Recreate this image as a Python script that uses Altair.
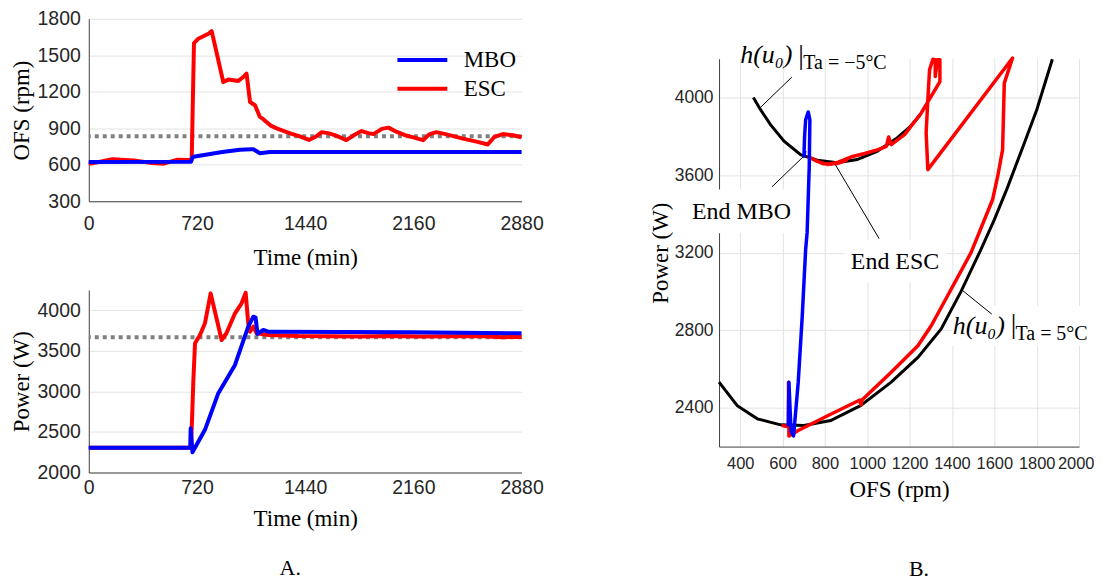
import altair as alt
import pandas as pd

BLUE = "#0000ff"
RED = "#ff0000"
GRAY = "#808080"
SERIF = "Liberation Serif"
SANS = "Liberation Sans"

# ---------------- Panel A (top): OFS vs time ----------------
time_ticks = [0, 720, 1440, 2160, 2880]
ofs_ticks = [300, 600, 900, 1200, 1500, 1800]
power_ticks = [2000, 2500, 3000, 3500, 4000]

esc_ofs_t = [0, 60, 156, 300, 420, 499, 590, 670, 685, 700, 729, 796, 818, 895, 929, 995, 1028,
             1050, 1073, 1106, 1139, 1161, 1208, 1254, 1345, 1400, 1465, 1510, 1550, 1600, 1650,
             1714, 1760, 1815, 1860, 1894, 1950, 1994, 2050, 2100, 2160, 2224, 2265, 2312, 2374,
             2489, 2580, 2655, 2700, 2755, 2822, 2880]
esc_ofs_v = [609, 620, 645, 635, 615, 609, 642, 640, 645, 1600, 1636, 1677, 1698, 1280, 1300, 1289,
             1321, 1349, 1116, 1089, 993, 975, 924, 897, 856, 835, 804, 830, 868, 858, 838, 803, 840,
             877, 860, 852, 895, 905, 870, 845, 825, 802, 850, 868, 852, 815, 790, 767, 830, 852,
             843, 826]
mbo_ofs_t = [0, 680, 690, 707, 888, 1006, 1082, 1095, 1139, 1205, 2880]
mbo_ofs_v = [623, 624, 660, 668, 705, 724, 728, 727, 695, 705, 705]
ofs_ref = [835]

# ---------------- Panel A (bottom): Power vs time ----------------
mbo_pow_t = [0, 675, 678, 684, 690, 773, 862, 973, 1061, 1095, 1110, 1123, 1161, 1194, 1231, 2146, 2880]
mbo_pow_v = [2305, 2305, 2546, 2400, 2250, 2526, 2978, 3326, 3798, 3921, 3910, 3708, 3757, 3736,
             3735, 3729, 3717]
esc_pow_t = [0, 680, 688, 696, 707, 740, 773, 811, 884, 916, 973, 1017, 1044, 1061, 1073, 1095,
             1117, 1194, 1393, 1600, 1800, 2000, 2200, 2400, 2600, 2750, 2880]
esc_pow_v = [2305, 2305, 2700, 3142, 3594, 3696, 3840, 4209, 3634, 3717, 3963, 4086, 4217, 3840,
             3736, 3798, 3717, 3696, 3684, 3680, 3678, 3682, 3676, 3680, 3683, 3668, 3672]
pow_ref = [3667]

# ---------------- Panel B: Power vs OFS ----------------
ofsB_ticks = [400, 600, 800, 1000, 1200, 1400, 1600, 1800, 2000]
powB_ticks = [2400, 2800, 3200, 3600, 4000]

cold_x = [462, 496, 543, 607, 685, 764, 858, 952, 1046, 1141, 1204, 1251]
cold_y = [4000, 3937, 3860, 3774, 3705, 3676, 3663, 3680, 3722, 3791, 3851, 3911]
warm_x = [300, 386, 481, 590, 701, 827, 968, 1113, 1239, 1349, 1443, 1537, 1600, 1660, 1740, 1800, 1874]
warm_y = [2532, 2411, 2343, 2312, 2309, 2334, 2411, 2532, 2660, 2806, 3000, 3217, 3370, 3530,
          3760, 3935, 4197]
mbo_path_x = [627, 630, 640, 652, 674, 693, 709, 716, 726, 729, 721, 709, 704, 701, 705]
mbo_path_y = [2305, 2532, 2280, 2255, 2532, 2874, 3217, 3303, 3645, 3885, 3925, 3885, 3800, 3697, 3725]
esc_path_x = [595, 645, 610, 640, 628, 628, 630, 674, 815, 965, 970, 975, 1113, 1239, 1302, 1396,
              1490, 1592, 1616, 1639, 1647, 1686, 1286, 1278, 1286, 1294, 1310, 1321, 1321, 1331,
              1343, 1343, 1255, 1176, 1113, 1101, 1090, 1051, 988, 925, 863, 815, 760, 725, 790,
              860, 900, 830, 880, 850]
esc_path_y = [2308, 2305, 2305, 2305, 2305, 2532, 2254, 2283, 2360, 2440, 2415, 2440, 2583, 2720,
              2823, 3011, 3200, 3474, 3594, 3731, 4074, 4203, 3628, 3817, 3988, 4142, 4197, 4194,
              4108, 4194, 4194, 4082, 3920, 3808, 3757, 3796, 3748, 3731, 3711, 3694, 3666, 3654,
              3672, 3692, 3658, 3660, 3676, 3655, 3668, 3660]

# annotation pointers (data coordinates)
ptr_x = [644, 550, 849, 1446]
ptr_y = [4105, 3539, 3654, 3008]
ptr_x2 = [498, 700, 1056, 1588]
ptr_y2 = [3951, 3697, 3272, 2883]

# white label boxes behind annotations
box_x = [160, 894, 1400]
box_x2 = [650, 1371, 2060]
box_y = [3300, 3047, 2720]
box_y2 = [3525, 3268, 2926]


def path_df(xs, ys, name):
    return pd.DataFrame({"x": xs, "y": ys, "i": list(range(len(xs))), "series": name})


# ---------- top chart ----------
x_time_top = alt.X("x:Q", scale=alt.Scale(domain=[0, 2880], nice=False, zero=False),
                   axis=alt.Axis(values=time_ticks, format="d", title="Time (min)", grid=False,
                                 labelFlush=False, labelPadding=13, titlePadding=14))
y_ofs = alt.Y("y:Q", scale=alt.Scale(domain=[300, 1800], nice=False, zero=False),
              axis=alt.Axis(values=ofs_ticks, format="d", title="OFS (rpm)", grid=True,
                            labelFlush=False, labelPadding=8.5, titlePadding=3.5))
legend = alt.Legend(title=None, orient="none", legendX=320, legendY=26.8, padding=0,
                    symbolType="M-2,0H2", symbolSize=625, symbolStrokeWidth=4,
                    labelFont=SERIF, labelFontSize=23, labelColor="black",
                    labelOffset=27, rowPadding=2)
color = alt.Color("series:N", scale=alt.Scale(domain=["MBO", "ESC"], range=[BLUE, RED]),
                  legend=legend)

ref_top = alt.Chart(pd.DataFrame({"y": ofs_ref})).mark_rule(
    color=GRAY, strokeWidth=4, strokeDash=[4, 4]).encode(y=y_ofs)
esc_top = alt.Chart(path_df(esc_ofs_t, esc_ofs_v, "ESC")).mark_line(
    strokeWidth=4, strokeJoin="round").encode(x=x_time_top, y=y_ofs, color=color, order="i:Q")
mbo_top = alt.Chart(path_df(mbo_ofs_t, mbo_ofs_v, "MBO")).mark_line(
    strokeWidth=4, strokeJoin="round").encode(x=x_time_top, y=y_ofs, color=color, order="i:Q")
top = alt.layer(ref_top, esc_top, mbo_top).properties(width=434, height=183)

# ---------- bottom chart ----------
x_time_bot = alt.X("x:Q", scale=alt.Scale(domain=[0, 2880], nice=False, zero=False),
                   axis=alt.Axis(values=time_ticks, format="d", title="Time (min)", grid=False,
                                 labelFlush=False, labelPadding=6, titlePadding=11))
y_pow = alt.Y("y:Q", scale=alt.Scale(domain=[2000, 4250], nice=False, zero=False),
              axis=alt.Axis(values=power_ticks, format="d", title="Power (W)", grid=True,
                            labelFlush=False, labelPadding=8.5, titlePadding=3.5))
ref_bot = alt.Chart(pd.DataFrame({"y": pow_ref})).mark_rule(
    color=GRAY, strokeWidth=4, strokeDash=[4, 4]).encode(y=y_pow)
esc_bot = alt.Chart(path_df(esc_pow_t, esc_pow_v, "ESC")).mark_line(
    strokeWidth=4, color=RED, strokeJoin="round").encode(x=x_time_bot, y=y_pow, order="i:Q")
mbo_bot = alt.Chart(path_df(mbo_pow_t, mbo_pow_v, "MBO")).mark_line(
    strokeWidth=4, color=BLUE, strokeJoin="round").encode(x=x_time_bot, y=y_pow, order="i:Q")
bottom = alt.layer(ref_bot, esc_bot, mbo_bot).properties(
    width=434, height=183,
    title=alt.TitleParams("A.", orient="bottom", font=SERIF, fontSize=22, fontWeight="normal",
                          color="black", offset=27, dx=-15, anchor="middle"))

left = alt.vconcat(top, bottom, spacing=20)

# ---------- right chart ----------
xB = alt.X("x:Q", scale=alt.Scale(domain=[300, 2000], nice=False, zero=False),
           axis=alt.Axis(values=ofsB_ticks, format="d", title="OFS (rpm)", grid=True,
                         labelFlush=True, labelFlushOffset=15, labelOverlap=False,
                         labelFontSize=16.5, labelPadding=9, titlePadding=7))
yB = alt.Y("y:Q", scale=alt.Scale(domain=[2200, 4200], nice=False, zero=False),
           axis=alt.Axis(values=powB_ticks, format="d", title="Power (W)", grid=True,
                         labelFlush=False, labelFontSize=17.5, labelPadding=6, titlePadding=2))

boxes = alt.Chart(pd.DataFrame({"x": box_x, "x2": box_x2, "y": box_y, "y2": box_y2})).mark_rect(
    color="white").encode(x=xB, x2="x2:Q", y=yB, y2="y2:Q")
curves = alt.Chart(pd.concat([path_df(cold_x, cold_y, "cold"), path_df(warm_x, warm_y, "warm")])
                   ).mark_line(color="black", strokeWidth=3).encode(
    x=xB, y=yB, detail="series:N", order="i:Q")
esc_B = alt.Chart(path_df(esc_path_x, esc_path_y, "ESC")).mark_line(
    color=RED, strokeWidth=3.5, strokeJoin="round").encode(x=xB, y=yB, order="i:Q")
mbo_B = alt.Chart(path_df(mbo_path_x, mbo_path_y, "MBO")).mark_line(
    color=BLUE, strokeWidth=3.5, strokeJoin="round").encode(x=xB, y=yB, order="i:Q")
pointers = alt.Chart(pd.DataFrame({"x": ptr_x, "y": ptr_y, "x2": ptr_x2, "y2": ptr_y2})).mark_rule(
    color="black", strokeWidth=1).encode(x=xB, y=yB, x2="x2:Q", y2="y2:Q")

ann_plain = pd.DataFrame({"x": [406, 1131], "y": [3407, 3150], "label": ["End MBO", "End ESC"]})
t_plain = alt.Chart(ann_plain).mark_text(font=SERIF, fontSize=24, color="black",
                                         align="center", baseline="middle").encode(
    x=xB, y=yB, text="label:N")
ann_h = pd.DataFrame({"x": [400, 1404], "y": [4219, 2823], "label": ["h(u\u2080)", "h(u\u2080)"]})
t_h = alt.Chart(ann_h).mark_text(font=SERIF, fontSize=26, fontStyle="italic", color="black",
                                 align="left", baseline="middle").encode(x=xB, y=yB, text="label:N")
ann_bar = pd.DataFrame({"x": [674, 1677], "y": [4211, 2826], "label": ["|", "|"]})
t_bar = alt.Chart(ann_bar).mark_text(font=SERIF, fontSize=28, color="black",
                                     align="left", baseline="middle").encode(x=xB, y=yB, text="label:N")
ann_sub = pd.DataFrame({"x": [698, 1700], "y": [4177, 2780],
                        "label": ["Ta = \u22125\u00b0C", "Ta = 5\u00b0C"]})
t_sub = alt.Chart(ann_sub).mark_text(font=SERIF, fontSize=20, color="black",
                                     align="left", baseline="middle").encode(x=xB, y=yB, text="label:N")
ann_B = pd.DataFrame({"x": [1244], "y": [1570], "label": ["B."]})
t_B = alt.Chart(ann_B).mark_text(font=SERIF, fontSize=22, color="black",
                                 align="center", baseline="middle").encode(x=xB, y=yB, text="label:N")

right = alt.layer(boxes, curves, esc_B, mbo_B, pointers, t_plain, t_h, t_bar, t_sub, t_B).properties(
    width=361, height=389)

# invisible spacer that pushes panel B down relative to panel A
spacer = alt.Chart(pd.DataFrame({"s": [0]})).mark_point(opacity=0, size=1).encode(
    x=alt.X("s:Q", axis=None), y=alt.Y("s:Q", axis=None)).properties(width=361, height=23)

right_col = alt.vconcat(spacer, right, spacing=0)

chart = alt.hconcat(left, right_col, spacing=106).properties(
    padding={"left": 2, "top": 0, "right": 0, "bottom": 0}
).configure_view(stroke=None).configure_axis(
    domainColor="#404040", domainWidth=1, labelColor="#262626", labelFont=SANS,
    labelFontSize=19.5, titleFont=SERIF, titleFontSize=23, titleFontWeight="normal",
    titleColor="black", gridColor="#e3e3e3", gridWidth=1, ticks=False, tickSize=0
)

chart.save("out.html", embed_options={"renderer": "svg", "actions": False})
